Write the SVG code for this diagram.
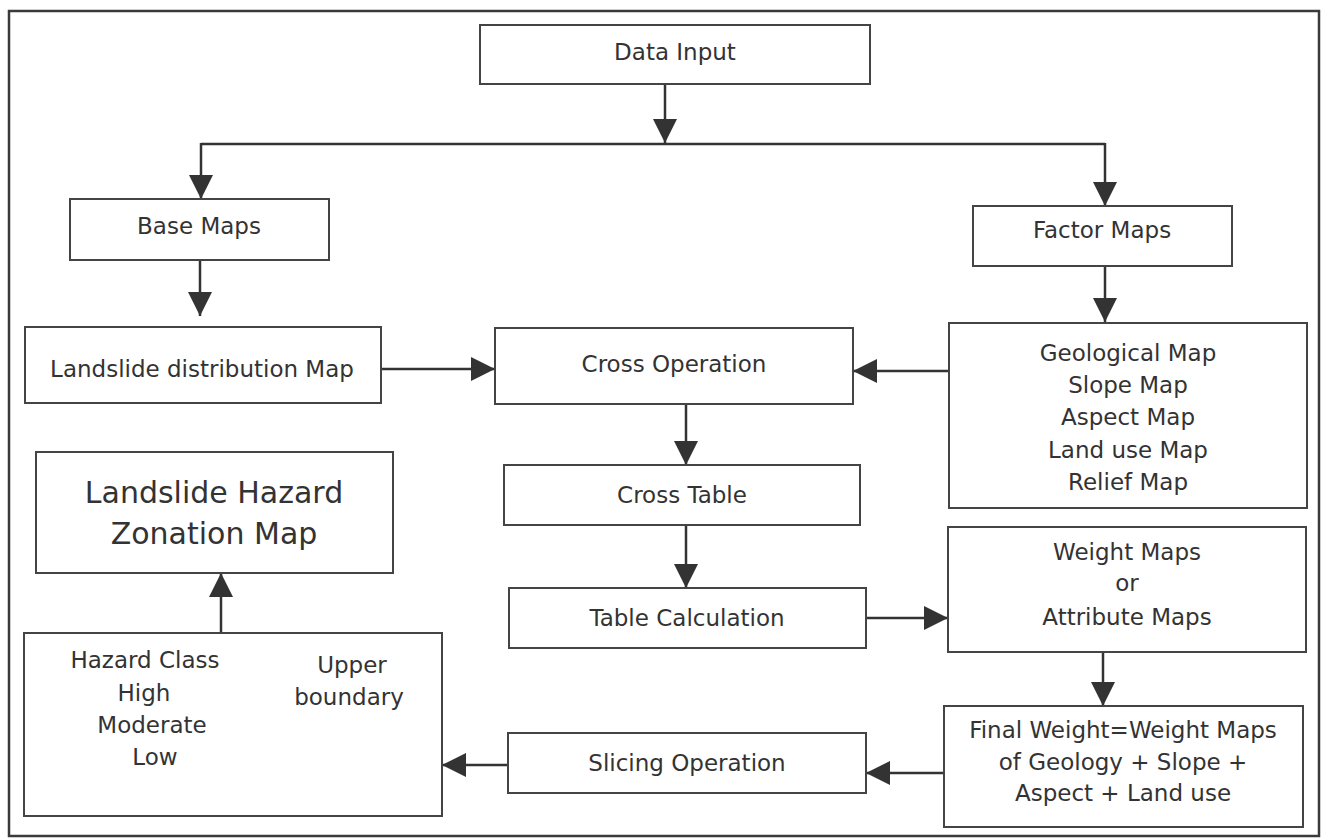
<svg xmlns="http://www.w3.org/2000/svg" width="1324" height="838" viewBox="0 0 1324 838">
<style>
.frame{fill:none;stroke:#3a3a3a;stroke-width:2.5}
.box{fill:#fff;stroke:#444;stroke-width:2}
.t{font-family:"DejaVu Sans","Liberation Sans",sans-serif;font-size:23px;fill:#333;text-anchor:middle}
.big{font-size:30px}
.c{fill:none;stroke:#333;stroke-width:2.5}
</style>
<defs>
<marker id="ah" viewBox="0 0 24 24" refX="24" refY="12" markerWidth="24" markerHeight="24" markerUnits="userSpaceOnUse" orient="auto">
<path d="M0,0 L24,12 L0,24 Z" fill="#333"/>
</marker>
</defs>
<rect width="1324" height="838" fill="#fff"/>
<rect class="frame" x="9" y="11" width="1310" height="825"/>

<g id="connectors">
<path class="c" d="M665,84 V143" marker-end="url(#ah)"/>
<path class="c" d="M201,144 H1105"/>
<path class="c" d="M201,143 V199" marker-end="url(#ah)"/>
<path class="c" d="M1105,143 V206" marker-end="url(#ah)"/>
<path class="c" d="M200,260 V316" marker-end="url(#ah)"/>
<path class="c" d="M1105,266 V322" marker-end="url(#ah)"/>
<path class="c" d="M381,369 H495" marker-end="url(#ah)"/>
<path class="c" d="M949,371 H853" marker-end="url(#ah)"/>
<path class="c" d="M686,404 V465" marker-end="url(#ah)"/>
<path class="c" d="M686,525 V588" marker-end="url(#ah)"/>
<path class="c" d="M866,618 H948" marker-end="url(#ah)"/>
<path class="c" d="M1103,652 V706" marker-end="url(#ah)"/>
<path class="c" d="M944,773 H866" marker-end="url(#ah)"/>
<path class="c" d="M508,765 H442" marker-end="url(#ah)"/>
<path class="c" d="M221,633 V573" marker-end="url(#ah)"/>
</g>

<g id="data-input">
<rect class="box" x="480" y="25" width="390" height="59"/>
<text class="t" x="675" y="60">Data Input</text>
</g>
<g id="base-maps">
<rect class="box" x="70" y="199" width="259" height="61"/>
<text class="t" x="199" y="234">Base Maps</text>
</g>
<g id="factor-maps">
<rect class="box" x="973" y="206" width="259" height="60"/>
<text class="t" x="1102" y="238">Factor Maps</text>
</g>
<g id="landslide-distribution">
<rect class="box" x="25" y="327" width="356" height="76"/>
<text class="t" x="202" y="377">Landslide distribution Map</text>
</g>
<g id="cross-operation">
<rect class="box" x="495" y="328" width="358" height="76"/>
<text class="t" x="674" y="372">Cross Operation</text>
</g>
<g id="factor-list">
<rect class="box" x="949" y="323" width="358" height="185"/>
<text class="t" x="1128" y="361">Geological Map</text>
<text class="t" x="1128" y="393">Slope Map</text>
<text class="t" x="1128" y="425">Aspect Map</text>
<text class="t" x="1128" y="458">Land use Map</text>
<text class="t" x="1128" y="490">Relief Map</text>
</g>
<g id="cross-table">
<rect class="box" x="504" y="465" width="356" height="60"/>
<text class="t" x="682" y="503">Cross Table</text>
</g>
<g id="table-calculation">
<rect class="box" x="509" y="588" width="357" height="60"/>
<text class="t" x="687" y="626">Table Calculation</text>
</g>
<g id="weight-maps">
<rect class="box" x="948" y="527" width="358" height="125"/>
<text class="t" x="1127" y="560">Weight Maps</text>
<text class="t" x="1127" y="591">or</text>
<text class="t" x="1127" y="625">Attribute Maps</text>
</g>
<g id="final-weight">
<rect class="box" x="944" y="706" width="359" height="121"/>
<text class="t" x="1123" y="738">Final Weight=Weight Maps</text>
<text class="t" x="1123" y="770">of Geology + Slope +</text>
<text class="t" x="1123" y="801">Aspect + Land use</text>
</g>
<g id="slicing-operation">
<rect class="box" x="508" y="733" width="358" height="60"/>
<text class="t" x="687" y="771">Slicing Operation</text>
</g>
<g id="hazard-class">
<rect class="box" x="24" y="633" width="418" height="183"/>
<text class="t" x="145" y="668">Hazard Class</text>
<text class="t" x="144" y="701">High</text>
<text class="t" x="152" y="733">Moderate</text>
<text class="t" x="155" y="765">Low</text>
<text class="t" x="352" y="673">Upper</text>
<text class="t" x="349" y="705">boundary</text>
</g>
<g id="hazard-zonation-map">
<rect class="box" x="36" y="452" width="357" height="121"/>
<text class="t big" x="214" y="503">Landslide Hazard</text>
<text class="t big" x="214" y="544">Zonation Map</text>
</g>
</svg>
